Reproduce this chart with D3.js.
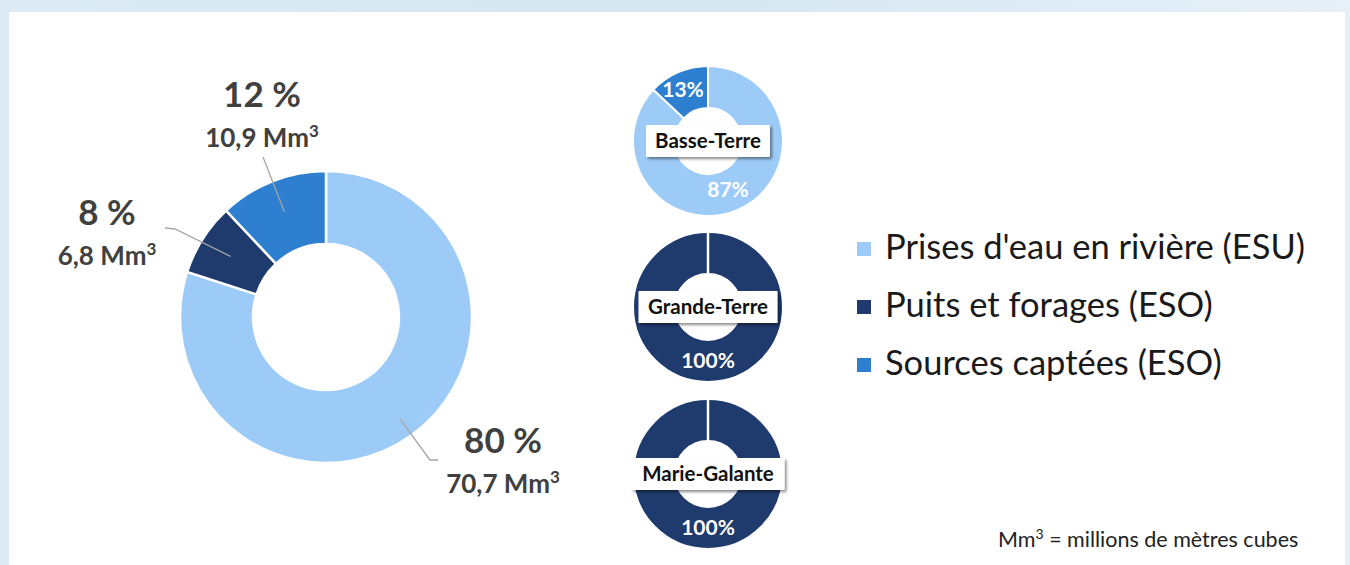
<!DOCTYPE html>
<html><head><meta charset="utf-8">
<script src="https://cdn.jsdelivr.net/npm/d3@7"></script>
<style>
html,body{margin:0;padding:0;background:#dcebf5;}
svg{display:block;font-family:Lato, "Open Sans", sans-serif;}
</style></head>
<body>
<svg id="chart" width="1350" height="565"></svg>
<script>
// ---- data ----
const categories = ["Prises d'eau en rivière (ESU)", "Puits et forages (ESO)", "Sources captées (ESO)"];
const totalPercent = [80, 8, 12];
const totalVolume = ["70,7", "6,8", "10,9"];
const islands = ["Basse-Terre", "Grande-Terre", "Marie-Galante"];
const basseTerre = [87, 0, 13];
const grandeTerre = [0, 100, 0];
const marieGalante = [0, 100, 0];
const islandValues = [basseTerre, grandeTerre, marieGalante];
const footnote = " = millions de mètres cubes";

const colors = ["#9dcbf7", "#1f3a6c", "#2e7fd0"];
const color = d3.scaleOrdinal().domain(categories).range(colors);

const svg = d3.select("#chart");
const defs = svg.append("defs");
const grad = defs.append("linearGradient").attr("id","bg").attr("x1","0").attr("x2","1");
grad.append("stop").attr("offset","0").attr("stop-color","#dcebf5");
grad.append("stop").attr("offset","0.5").attr("stop-color","#d6e7f2");
grad.append("stop").attr("offset","1").attr("stop-color","#e6f0f8");
svg.append("rect").attr("width",1350).attr("height",565).attr("fill","url(#bg)");
svg.append("rect").attr("x",9).attr("y",12).attr("width",1336).attr("height",560).attr("fill","#ffffff");

const filt = defs.append("filter").attr("id","shadow").attr("x","-20%").attr("y","-30%").attr("width","150%").attr("height","190%");
filt.append("feDropShadow").attr("dx",2).attr("dy",2).attr("stdDeviation",1.5).attr("flood-color","#000").attr("flood-opacity",0.45);

const pie = d3.pie().sort(null).value(d => d.v);

// ---- main donut ----
const cx = 326, cy = 317, R = 146, r = 73;
const arc = d3.arc().innerRadius(r).outerRadius(R);
const mainData = pie(categories.map((c,i)=>({c, v: totalPercent[i], vol: totalVolume[i]})));
const g = svg.append("g").attr("transform",`translate(${cx},${cy})`);
g.selectAll("path").data(mainData).join("path")
  .attr("d", arc).attr("fill", d => color(d.data.c))
  .attr("stroke","#fff").attr("stroke-width",2.5);

function ptOnArc(d, frac){ const a = (d.startAngle+d.endAngle)/2; const rr = r + (R-r)*frac; return [cx + rr*Math.sin(a), cy - rr*Math.cos(a)]; }
const labelInfo = [
  {i:0, tx:503, ty:453, frac:0.72, line:[[438,460],[430,460]]},
  {i:1, tx:107, ty:225, frac:0.55, line:[[165,228],[175,229]]},
  {i:2, tx:262, ty:107, frac:0.55, line:[[263,157]]}
];
labelInfo.forEach(L => {
  const d = mainData[L.i];
  const p = ptOnArc(d, L.frac);
  const pts = L.line.concat([p]);
  svg.append("path").attr("d", d3.line()(pts)).attr("fill","none").attr("stroke","#a6a6a6").attr("stroke-width",1.3);
  svg.append("text").attr("x",L.tx).attr("y",L.ty).attr("text-anchor","middle")
    .attr("font-size",35).attr("font-weight",700).attr("fill","#404040").text(d.data.v + " %");
  const t = svg.append("text").attr("x",L.tx).attr("y",L.ty+40).attr("text-anchor","middle")
    .attr("font-size",26).attr("font-weight",700).attr("fill","#404040");
  t.append("tspan").text(d.data.vol + " Mm");
  t.append("tspan").attr("font-size",17).attr("dy",-10).text("3");
});

// ---- small donuts ----
const sR = 75, sr = 33;
const sArc = d3.arc().innerRadius(sr).outerRadius(sR);
const centersY = [141, 307, 474];
const boxW = [124, 139, 153];
islands.forEach((name, k) => {
  const vals = islandValues[k];
  const data = pie(categories.map((c,i)=>({c, v: vals[i]}))).filter(d => d.data.v > 0);
  const gg = svg.append("g").attr("transform",`translate(708,${centersY[k]})`);
  gg.selectAll("path").data(data).join("path")
    .attr("d", sArc).attr("fill", d => color(d.data.c))
    .attr("stroke","#fff").attr("stroke-width",2);
  if (data.length === 1) {
    gg.append("line").attr("x1",0).attr("x2",0).attr("y1",-sR).attr("y2",-sr).attr("stroke","#fff").attr("stroke-width",2.5);
  }
  data.forEach(d => {
    let px, py;
    if (data.length === 1) { px = 0; py = 54; }
    else if (d.data.v > 50) { px = 20; py = 49; } else { px = -25; py = -51; }
    gg.append("text").attr("x",px).attr("y",py+7).attr("text-anchor","middle")
      .attr("font-size",21).attr("font-weight",700).attr("fill","#ffffff").text(d.data.v + "%");
  });
  const bw = boxW[k], bh = 32;
  gg.append("rect").attr("x",-bw/2).attr("y",-bh/2).attr("width",bw).attr("height",bh)
    .attr("fill","#fff").attr("filter","url(#shadow)");
  gg.append("text").attr("x",0).attr("y",7).attr("text-anchor","middle")
    .attr("font-size",20.5).attr("font-weight",700).attr("fill","#111").text(name);
});

// ---- legend ----
const lg = svg.append("g");
categories.forEach((c,i) => {
  const y = 259 + i*58;
  lg.append("rect").attr("x",857).attr("y",y-17).attr("width",14).attr("height",14).attr("fill",color(c));
  lg.append("text").attr("x",885).attr("y",y).attr("font-size",34.5).attr("fill","#1a1a1a").text(c);
});

// footnote
const fn = svg.append("text").attr("x",998).attr("y",547).attr("font-size",21.5).attr("fill","#222");
fn.append("tspan").text("Mm");
fn.append("tspan").attr("font-size",14).attr("dy",-8).text("3");
fn.append("tspan").attr("dy",8).text(footnote);
</script>
</body></html>
